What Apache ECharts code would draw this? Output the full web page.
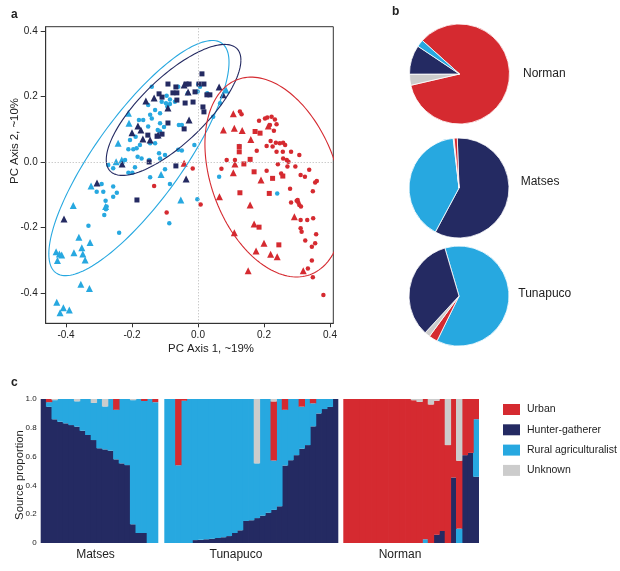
<!DOCTYPE html>
<html><head><meta charset="utf-8">
<script src="https://cdn.jsdelivr.net/npm/echarts@6/dist/echarts.min.js"></script>
<style>html,body{margin:0;padding:0;background:#fff}#c{width:620px;height:571px}</style>
</head><body><div id="c"></div>
<script>
const FONT = '"Liberation Sans", Arial, Helvetica, sans-serif';
const COL = {urban:'#d52a30', hg:'#242a62', rural:'#27a8e0', unk:'#cccccc'};

// ---------- panel a: PCoA points ----------
const matsesSquares = [[0.012,0.269],[-0.091,0.238],[-0.067,0.229],[-0.036,0.238],[-0.027,0.238],[-0.009,0.214],[0.003,0.238],[0.018,0.238],[0.027,0.205],[0.036,0.205],[-0.076,0.211],[-0.064,0.211],[-0.118,0.208],[-0.109,0.198],[-0.039,0.180],[-0.015,0.183],[0.015,0.168],[0.018,0.153],[-0.064,0.189],[-0.091,0.119],[-0.042,0.101],[-0.152,0.082],[-0.109,0.085],[-0.124,0.079],[-0.148,0.0],[-0.067,-0.012],[-0.185,-0.116]];
const matsesTriangles = [[-0.042,0.235],[-0.030,0.214],[0.064,0.229],[0.076,0.205],[-0.158,0.186],[-0.091,0.165],[-0.027,0.128],[-0.182,0.110],[-0.173,0.098],[-0.200,0.089],[-0.145,0.067],[-0.167,0.070],[-0.121,0.082],[-0.230,-0.006],[-0.306,-0.064],[-0.036,-0.052],[-0.406,-0.174],[-0.133,0.195]];
const tunapucoCircles = [[-0.140,0.230],[0.001,0.237],[0.006,0.230],[-0.031,0.210],[-0.085,0.191],[-0.070,0.184],[-0.110,0.184],[-0.097,0.179],[-0.151,0.174],[-0.130,0.159],[-0.115,0.149],[-0.145,0.144],[-0.140,0.133],[-0.179,0.128],[-0.166,0.128],[-0.115,0.118],[-0.103,0.107],[-0.058,0.113],[-0.049,0.113],[-0.151,0.108],[-0.189,0.077],[-0.206,0.067],[-0.122,0.098],[-0.115,0.093],[-0.176,0.052],[-0.186,0.042],[-0.196,0.039],[-0.211,0.039],[-0.145,0.057],[-0.130,0.057],[-0.060,0.037],[-0.049,0.035],[-0.118,0.027],[-0.115,0.011],[-0.100,0.021],[-0.011,0.052],[0.028,0.210],[0.046,0.138],[0.067,0.179],[-0.272,-0.009],[-0.257,-0.019],[-0.221,0.006],[-0.191,-0.016],[-0.211,-0.033],[-0.199,-0.033],[-0.100,-0.022],[-0.292,-0.067],[-0.307,-0.091],[-0.287,-0.091],[-0.257,-0.075],[-0.257,-0.106],[-0.280,-0.118],[-0.277,-0.136],[-0.279,-0.144],[-0.284,-0.162],[-0.332,-0.195],[-0.239,-0.216],[-0.145,-0.047],[-0.085,-0.067],[-0.002,-0.114],[0.064,-0.045],[0.125,0.049],[-0.087,-0.187],[0.240,-0.096],[-0.246,-0.094],[-0.085,0.177],[-0.093,0.169],[-0.060,0.230],[-0.001,0.215],[-0.095,0.202],[-0.183,0.016],[-0.171,0.011],[-0.148,0.006]];
const tunapucoTriangles = [[-0.211,0.149],[-0.209,0.118],[-0.242,0.057],[-0.231,0.006],[-0.248,0.001],[-0.112,-0.038],[-0.324,-0.073],[-0.052,-0.116],[-0.378,-0.133],[-0.280,-0.136],[0.085,0.220],[-0.361,-0.230],[-0.327,-0.246],[-0.352,-0.262],[-0.376,-0.277],[-0.349,-0.281],[-0.342,-0.299],[-0.430,-0.274],[-0.420,-0.281],[-0.413,-0.284],[-0.426,-0.301],[-0.355,-0.373],[-0.329,-0.386],[-0.428,-0.428],[-0.408,-0.445],[-0.390,-0.452],[-0.418,-0.460]];
const normanTriangles = [[0.107,0.147],[0.077,0.098],[0.110,0.103],[0.134,0.096],[0.160,0.069],[0.213,0.110],[0.112,-0.006],[0.107,-0.033],[0.191,-0.055],[0.065,-0.106],[0.158,-0.131],[0.170,-0.189],[0.110,-0.216],[0.200,-0.248],[0.176,-0.272],[0.220,-0.282],[0.240,-0.289],[0.152,-0.332],[0.292,-0.167],[0.319,-0.332],[-0.042,-0.004]];
const normanSquares = [[0.173,0.093],[0.188,0.088],[0.125,0.031],[0.139,-0.006],[0.158,0.008],[0.226,-0.050],[0.127,-0.094],[0.216,-0.096],[0.257,-0.043],[0.170,-0.030],[0.185,-0.199],[0.245,-0.253],[0.125,0.047]];
const normanCircles = [[0.127,0.154],[0.132,0.146],[0.185,0.126],[0.203,0.133],[0.210,0.136],[0.223,0.138],[0.233,0.130],[0.238,0.115],[0.218,0.113],[0.230,0.095],[0.220,0.064],[0.236,0.059],[0.248,0.057],[0.258,0.059],[0.264,0.052],[0.226,0.047],[0.238,0.031],[0.257,0.031],[0.208,0.049],[0.282,0.031],[0.307,0.021],[0.258,0.011],[0.269,0.006],[0.178,0.034],[0.087,0.006],[0.112,0.006],[0.242,-0.007],[0.271,-0.014],[0.274,0.001],[0.295,-0.014],[0.071,-0.021],[0.208,-0.027],[0.252,-0.035],[0.337,-0.024],[0.311,-0.040],[0.324,-0.045],[0.355,-0.063],[0.360,-0.058],[0.348,-0.089],[0.279,-0.082],[0.302,-0.116],[0.304,-0.124],[0.299,-0.118],[0.307,-0.131],[0.312,-0.136],[0.282,-0.124],[0.311,-0.177],[0.331,-0.177],[0.349,-0.172],[0.311,-0.202],[0.314,-0.213],[0.358,-0.221],[0.325,-0.240],[0.355,-0.248],[0.345,-0.259],[0.345,-0.301],[0.333,-0.325],[0.348,-0.352],[0.380,-0.406],[0.008,-0.130],[-0.016,-0.020],[-0.133,-0.073],[-0.095,-0.154]];
// ellipses: [centerX, centerY, halfExtentX, halfExtentY, correlation]
const ellipseParams = [[-0.179,0.012,0.273,0.359,0.815],[-0.074,0.159,0.204,0.200,0.76],[0.230,-0.046,0.209,0.305,-0.33]];
const ellipseColors = [COL.rural, COL.hg, COL.urban];
const pcTicks = [-0.4,-0.2,0,0.2,0.4];

// ---------- panel b: pies (percent) ----------
const pieNames = ['Norman','Matses','Tunapuco'];
const pieNorman = [['Urban',84.7],['Unknown',3.6],['Hunter-gatherer',9.4],['Rural agriculturalist',2.3]];
const pieMatses = [['Hunter-gatherer',58.4],['Rural agriculturalist',40.3],['Unknown',0.3],['Urban',1.0]];
const pieTunapuco = [['Rural agriculturalist',61.8],['Urban',2.8],['Unknown',1.8],['Hunter-gatherer',33.6]];
const pieStart = [138, 92, 106.4];

// ---------- panel c: source proportions per sample ----------
const matsesHG = [1.0,0.946,0.859,0.842,0.831,0.819,0.808,0.78,0.75,0.715,0.658,0.65,0.641,0.581,0.553,0.541,0.13,0.07,0.07,0,0];
const matsesRural = [0,0.032,0.133,0.158,0.169,0.181,0.176,0.22,0.25,0.258,0.342,0.298,0.359,0.344,0.447,0.459,0.862,0.93,0.916,1.0,0.978];
const matsesUrban = [0,0.022,0,0,0,0,0,0,0,0,0,0,0,0.075,0,0,0,0,0.014,0,0.022];
const matsesUnknown = [0,0,0.008,0,0,0,0.016,0,0,0.027,0,0.052,0,0,0,0,0.008,0,0,0,0];
const tunapucoHG = [0,0,0,0,0,0.02,0.022,0.026,0.03,0.035,0.04,0.048,0.07,0.088,0.153,0.158,0.173,0.19,0.21,0.23,0.255,0.538,0.575,0.61,0.655,0.68,0.81,0.9,0.93,0.945,1.0];
const tunapucoRural = [1.0,1.0,0.54,0.988,1.0,0.98,0.978,0.974,0.97,0.965,0.96,0.952,0.93,0.912,0.847,0.842,0.38,0.81,0.79,0.343,0.745,0.387,0.425,0.39,0.292,0.32,0.16,0.1,0.07,0.055,0];
const tunapucoUrban = [0,0,0.46,0.012,0,0,0,0,0,0,0,0,0,0,0,0,0,0,0,0.41,0,0.075,0,0,0.053,0,0.03,0,0,0,0];
const tunapucoUnknown = [0,0,0,0,0,0,0,0,0,0,0,0,0,0,0,0,0.447,0,0,0.017,0,0,0,0,0,0,0,0,0,0,0];
const normanHG = [0,0,0,0,0,0,0,0,0,0,0,0,0,0,0,0,0.058,0.084,0,0.455,0,0.61,0.626,0.46];
const normanRural = [0,0,0,0,0,0,0,0,0,0,0,0,0,0,0.026,0,0,0,0,0,0.1,0,0,0.4];
const normanUrban = [1,1,1,1,1,1,1,1,1,1,1,1,0.992,0.98,0.974,0.962,0.93,0.916,0.68,0.545,0.471,0.39,0.374,0.14];
const normanUnknown = [0,0,0,0,0,0,0,0,0,0,0,0,0.008,0.02,0,0.038,0.012,0,0.32,0,0.429,0,0,0];
const legendNames = ['Urban','Hunter-gatherer','Rural agriculturalist','Unknown'];
const groupLabels = ['Matses','Tunapuco','Norman'];

const colorOf = {'Urban':COL.urban,'Hunter-gatherer':COL.hg,'Rural agriculturalist':COL.rural,'Unknown':COL.unk};
const chart = echarts.init(document.getElementById('c'), null, {renderer:'canvas'});

function scatterS(name, data, symbol, size, color){
  return {type:'scatter', name, data, symbol, symbolSize:size, xAxisIndex:0, yAxisIndex:0,
    itemStyle:{color, opacity:1}, silent:true, z:3};
}
function ellipseItem(params, api){
  const cx=api.value(0), cy=api.value(1), X=api.value(2), Y=api.value(3), r=api.value(4);
  const pts=[]; const s=Math.sqrt(1-r*r);
  for(let i=0;i<=160;i++){const t=i/160*2*Math.PI;
    pts.push(api.coord([cx+X*Math.cos(t), cy+Y*(r*Math.cos(t)+s*Math.sin(t))]));}
  return {type:'polyline', shape:{points:pts}, style:{stroke:ellipseColors[params.dataIndex], fill:'none', lineWidth:1.1}};
}
const pieCenters = [[459.5,74],[459,188],[459,296]];
const pieData = [pieNorman, pieMatses, pieTunapuco];
const pies = pieData.map((d,i)=>({type:'pie', name:pieNames[i], center:pieCenters[i], radius:50,
  startAngle:pieStart[i], clockwise:true, silent:true, label:{show:false}, labelLine:{show:false},
  minAngle:0, avoidLabelOverlap:false,
  itemStyle:{borderColor:'#fff', borderWidth:0.8},
  data:d.map(x=>({name:x[0], value:x[1], itemStyle:{color:colorOf[x[0]]}}))}));

const groups = [
  [matsesHG, matsesRural, matsesUrban, matsesUnknown],
  [tunapucoHG, tunapucoRural, tunapucoUrban, tunapucoUnknown],
  [normanHG, normanRural, normanUrban, normanUnknown]];
const stackNames = ['Hunter-gatherer','Rural agriculturalist','Urban','Unknown'];
const bars = [];
groups.forEach((g,gi)=>{
  g.forEach((vals,si)=>{
    bars.push({type:'bar', name:stackNames[si], xAxisIndex:gi+1, yAxisIndex:gi+1, stack:'g'+gi,
      data:vals, barWidth:6.4, silent:true,
      itemStyle:{color:colorOf[stackNames[si]]}});
  });
});

const tickTxt = {fontSize:10, color:'#222', fontFamily:FONT};
const option = {
  animation:false,
  textStyle:{fontFamily:FONT},
  grid:[
    {left:45.7, top:26.7, width:287.6, height:296.6, show:true, borderColor:'#333', borderWidth:1},
    {left:40.7, top:399, width:117.6, height:144},
    {left:164.3, top:399, width:174, height:144},
    {left:343.3, top:399, width:135.7, height:144}
  ],
  xAxis:[
    {type:'value', gridIndex:0, min:-0.4615, max:0.41,
      axisLine:{show:true, onZero:false, lineStyle:{color:'#333'}},
      axisTick:{show:true, length:4, customValues:pcTicks, lineStyle:{color:'#333'}},
      axisLabel:Object.assign({customValues:pcTicks, margin:7, formatter:v=>v.toFixed(1)}, tickTxt),
      splitLine:{show:false}},
    {type:'category', gridIndex:1, data:matsesHG.map((_,i)=>'M'+(i+1)), show:false, boundaryGap:true},
    {type:'category', gridIndex:2, data:tunapucoHG.map((_,i)=>'T'+(i+1)), show:false, boundaryGap:true},
    {type:'category', gridIndex:3, data:normanHG.map((_,i)=>'N'+(i+1)), show:false, boundaryGap:true}
  ],
  yAxis:[
    {type:'value', gridIndex:0, min:-0.4925, max:0.413,
      axisLine:{show:true, onZero:false, lineStyle:{color:'#333'}},
      axisTick:{show:true, length:5, customValues:pcTicks, lineStyle:{color:'#333'}},
      axisLabel:Object.assign({customValues:pcTicks, margin:8, formatter:v=>v.toFixed(1)}, tickTxt),
      splitLine:{show:false}},
    {type:'value', gridIndex:1, min:0, max:1, interval:0.2,
      axisLine:{show:false}, axisTick:{show:false}, splitLine:{show:false},
      axisLabel:{fontSize:8, color:'#222', margin:4, formatter:v=>v===0?'0':v.toFixed(1)}},
    {type:'value', gridIndex:2, min:0, max:1, show:false},
    {type:'value', gridIndex:3, min:0, max:1, show:false}
  ],
  legend:{data:legendNames, orient:'vertical', left:498, top:399, itemWidth:17, itemHeight:11,
    itemGap:9.3, icon:'rect', selectedMode:false,
    textStyle:{fontSize:10.5, color:'#222', lineHeight:11, padding:[0,0,0,2]}},
  series:[
    {type:'scatter', xAxisIndex:0, yAxisIndex:0, data:[], silent:true, z:1,
      markLine:{silent:true, symbol:['none','none'], label:{show:false}, animation:false,
        lineStyle:{type:[1,2], color:'#b5b5b5', width:1}, data:[{xAxis:0},{yAxis:0}]}},
    scatterS('Tunapuco circles', tunapucoCircles, 'circle', 4.5, COL.rural),
    scatterS('Tunapuco triangles', tunapucoTriangles, 'triangle', 7, COL.rural),
    scatterS('Matses squares', matsesSquares, 'rect', 5, COL.hg),
    scatterS('Matses triangles', matsesTriangles, 'triangle', 7, COL.hg),
    scatterS('Norman circles', normanCircles, 'circle', 4.5, COL.urban),
    scatterS('Norman squares', normanSquares, 'rect', 5, COL.urban),
    scatterS('Norman triangles', normanTriangles, 'triangle', 7, COL.urban),
    {type:'custom', xAxisIndex:0, yAxisIndex:0, data:ellipseParams, renderItem:ellipseItem,
      clip:true, silent:true, z:4, encode:{x:0, y:1}},
    ...pies,
    ...bars
  ],
  graphic:[
    {type:'text', x:11, y:15, style:{text:'a', fontSize:12, fontWeight:'bold', fill:'#222', fontFamily:FONT, textVerticalAlign:'middle'}},
    {type:'text', x:392, y:12, style:{text:'b', fontSize:12, fontWeight:'bold', fill:'#222', fontFamily:FONT, textVerticalAlign:'middle'}},
    {type:'text', x:11, y:383, style:{text:'c', fontSize:12, fontWeight:'bold', fill:'#222', fontFamily:FONT, textVerticalAlign:'middle'}},
    {type:'text', x:211, y:349, style:{text:'PC Axis 1, ~19%', fontSize:11.4, fill:'#222', fontFamily:FONT, textAlign:'center', textVerticalAlign:'middle'}},
    {type:'text', x:15, y:141, rotation:Math.PI/2, style:{text:'PC Axis 2, ~10%', fontSize:11.4, fill:'#222', fontFamily:FONT, textAlign:'center', textVerticalAlign:'middle'}},
    {type:'text', x:20, y:475, rotation:Math.PI/2, style:{text:'Source proportion', fontSize:11.3, fill:'#222', fontFamily:FONT, textAlign:'center', textVerticalAlign:'middle'}},
    {type:'text', x:523, y:73.5, style:{text:pieNames[0], fontSize:12, fill:'#222', fontFamily:FONT, textVerticalAlign:'middle'}},
    {type:'text', x:520.7, y:182, style:{text:pieNames[1], fontSize:12, fill:'#222', fontFamily:FONT, textVerticalAlign:'middle'}},
    {type:'text', x:518.3, y:293.5, style:{text:pieNames[2], fontSize:12, fill:'#222', fontFamily:FONT, textVerticalAlign:'middle'}},
    {type:'text', x:95.5, y:555, style:{text:groupLabels[0], fontSize:12, fill:'#222', fontFamily:FONT, textAlign:'center', textVerticalAlign:'middle'}},
    {type:'text', x:236, y:555, style:{text:groupLabels[1], fontSize:12, fill:'#222', fontFamily:FONT, textAlign:'center', textVerticalAlign:'middle'}},
    {type:'text', x:400, y:555, style:{text:groupLabels[2], fontSize:12, fill:'#222', fontFamily:FONT, textAlign:'center', textVerticalAlign:'middle'}}
  ]
};
chart.setOption(option);
</script></body></html>
